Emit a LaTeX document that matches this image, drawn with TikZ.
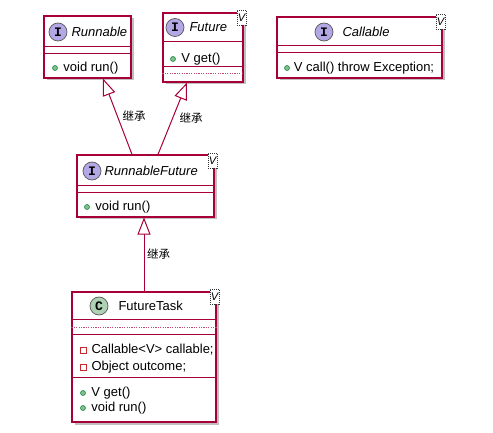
\documentclass[tikz,border=0pt]{standalone}
\usepackage{fontspec}
\setmainfont{Liberation Sans}
\setmonofont{Liberation Mono}
\newfontfamily\cjkfont{Noto Sans CJK SC}
\usepackage{tikz}
\usetikzlibrary{positioning, arrows.meta, calc, shadows}
\definecolor{umlred}{HTML}{A80036}
\definecolor{ibadge}{HTML}{B4A7E5}
\definecolor{cbadge}{HTML}{ADD1B2}
\definecolor{pubfill}{HTML}{84BE84}
\definecolor{publine}{HTML}{038048}
\definecolor{privline}{HTML}{C82930}
\tikzset{
  classbox/.style={
    draw=umlred, line width=1.1pt, fill=white, inner sep=0pt,
    drop shadow={shadow xshift=2.5pt, shadow yshift=-2.5pt,
                 fill=black!45, opacity=.55},
  },
  sepline/.style={draw=umlred, line width=1pt},
  dotline/.style={draw=umlred!70, line width=0.6pt, dash pattern=on 1.2pt off 1.2pt},
  badge/.style={circle, draw=black!65, line width=0.7pt, minimum size=18pt,
    inner sep=0pt, font=\fontsize{13}{13}\ttfamily\bfseries},
  iname/.style={font=\fontsize{13}{16}\selectfont\itshape, inner sep=1pt},
  cname/.style={font=\fontsize{13}{16}\selectfont, inner sep=1pt},
  member/.style={font=\fontsize{13}{16}\selectfont, inner sep=0pt},
  pub/.style={circle, draw=publine, fill=pubfill, line width=0.5pt,
    minimum size=5pt, inner sep=0pt},
  priv/.style={rectangle, draw=privline, line width=0.6pt,
    minimum size=6pt, inner sep=0pt},
  tparam/.style={draw=black!80, dash pattern=on 1pt off 1pt, line width=0.4pt,
    fill=white, inner sep=0.5pt, minimum width=9pt, minimum height=15pt,
    font=\fontsize{11}{11}\selectfont\itshape},
  inherit/.style={draw=umlred, line width=1pt,
    -{Triangle[length=17pt, width=13pt, fill=white]}},
  lbl/.style={font=\fontsize{11.5}{12}\cjkfont, inner sep=2pt},
}

\begin{document}
\begin{tikzpicture}[x=1pt, y=-1pt]
\useasboundingbox (0,0) rectangle (493,433);

% interfaces on top
\node[classbox, minimum width=87pt, minimum height=62pt] (rn) at (87.5,47) {};
\node[classbox, minimum width=80pt, minimum height=69pt] (fu) at (203,47.5) {};
\node[classbox, minimum width=165pt, minimum height=61pt] (ca) at (359.5,47.5) {};
% middle and bottom
\node[classbox, minimum width=137pt, minimum height=62pt] (rf) at (145.5,186) {};
\node[classbox, minimum width=144pt, minimum height=130pt] (ft) at (144,357) {};

% compartments
\draw[sepline] ($(rn.north west)+(0,31)$) -- ($(rn.north east)+(0,31)$);
\draw[sepline] ($(rn.north west)+(0,38)$) -- ($(rn.north east)+(0,38)$);
\draw[sepline] ($(fu.north west)+(0,29)$) -- ($(fu.north east)+(0,29)$);
\draw[sepline] ($(fu.north west)+(0,54)$) -- ($(fu.north east)+(0,54)$);
\draw[dotline] ($(fu.north west)+(0,61)$) -- ($(fu.north east)+(0,61)$);
\draw[sepline] ($(ca.north west)+(0,29)$) -- ($(ca.north east)+(0,29)$);
\draw[sepline] ($(ca.north west)+(0,36)$) -- ($(ca.north east)+(0,36)$);
\draw[sepline] ($(rf.north west)+(0,31)$) -- ($(rf.north east)+(0,31)$);
\draw[sepline] ($(rf.north west)+(0,38)$) -- ($(rf.north east)+(0,38)$);
\draw[sepline] ($(ft.north west)+(0,28)$) -- ($(ft.north east)+(0,28)$);
\draw[dotline] ($(ft.north west)+(0,36)$) -- ($(ft.north east)+(0,36)$);
\draw[sepline] ($(ft.north west)+(0,43)$) -- ($(ft.north east)+(0,43)$);
\draw[sepline] ($(ft.north west)+(0,86)$) -- ($(ft.north east)+(0,86)$);

% headers
\node[badge, fill=ibadge] (rnI) at (58,32) {I};
\node[iname, right=3pt of rnI] (rnN) {Runnable};
\node[badge, fill=ibadge] (fuI) at (175,27.5) {I};
\node[iname, right=4pt of fuI] (fuN) {Future};
\node[badge, fill=ibadge] (caI) at (324,32) {I};
\node[iname, right=8pt of caI] (caN) {Callable};
\node[badge, fill=ibadge] (rfI) at (92,171) {I};
\node[iname, right=2pt of rfI] (rfN) {RunnableFuture};
\node[badge, fill=cbadge] (ftC) at (99,306) {C};
\node[cname, right=9pt of ftC] (ftN) {FutureTask};

% generic parameters
\node[tparam] (fuV) at ($(fu.north east)+(-2,5)$) {V};
\node[tparam] (caV) at ($(ca.north east)+(-2,5)$) {V};
\node[tparam] (rfV) at ($(rf.north east)+(-2,6)$) {V};
\node[tparam] (ftV) at ($(ft.north east)+(-2,5)$) {V};

% members
\node[pub] (rnm1) at (55,68) {};
\node[member, right=5.5pt of rnm1] {void run()};
\node[pub] (fum1) at (173,59) {};
\node[member, right=5.5pt of fum1] {V get()};
\node[pub] (cam1) at (287,68) {};
\node[member, right=4pt of cam1] {V call() throw Exception;};
\node[pub] (rfm1) at (87,207) {};
\node[member, right=5.5pt of rfm1] {void run()};
\node[priv] (ftf1) at (83,350) {};
\node[member, right=5pt of ftf1] {Callable<V> callable;};
\node[priv] (ftf2) at (83,367) {};
\node[member, right=5pt of ftf2] {Object outcome;};
\node[pub] (ftm1) at (83,393) {};
\node[member, right=5.5pt of ftm1] {V get()};
\node[pub] (ftm2) at (83,408) {};
\node[member, right=5.5pt of ftm2] {void run()};

% inheritance
\draw[inherit] ($(rf.north)+(-13.5,0)$) -- ($(rn.south)+(15.5,0)$)
  node[lbl, midway, right=2.5pt] {继承};
\draw[inherit] ($(rf.north)+(12.5,0)$) -- ($(fu.south)+(-16,0)$)
  node[lbl, midway, right=4.5pt] {继承};
\draw[inherit] (ft.north) -- (ft.north |- rf.south)
  node[lbl, midway, right=0.5pt] {继承};

\end{tikzpicture}
\end{document}
